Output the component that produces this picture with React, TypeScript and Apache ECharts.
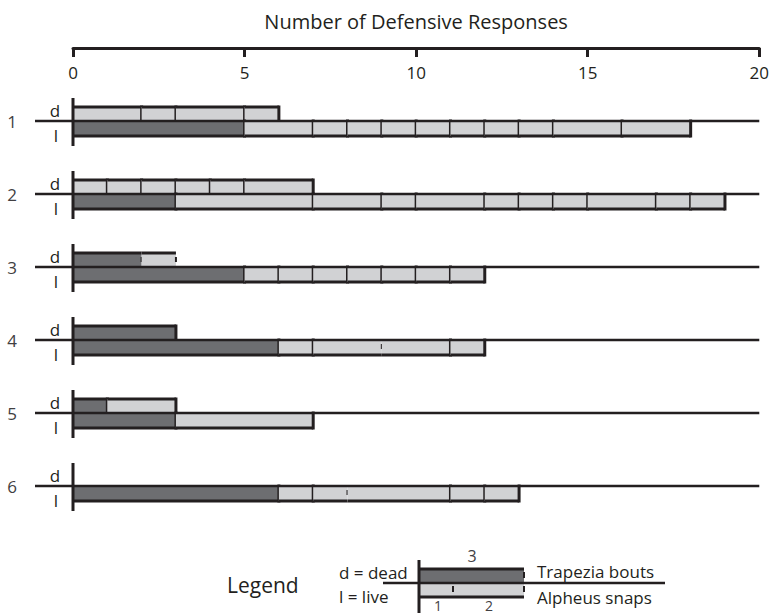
import React, { useEffect, useRef } from "react";
import * as echarts from "echarts";

const groups = ["1", "2", "3", "4", "5", "6"];
const axisMin = 0;
const axisMax = 20;
const axisInterval = 5;
// Trapezia bouts (dark) per group, for dead (d) and live (l)
const deadTrapezia = [0, 0, 2, 3, 1, 0];
const liveTrapezia = [5, 3, 5, 6, 3, 6];
// Alpheus snaps (light) — cumulative ends of each boxed segment
const deadAlpheusEnds = [[2, 3, 5, 6], [1, 2, 3, 4, 5, 7], [3], [], [3], []];
const liveAlpheusEnds = [
  [7, 8, 9, 10, 11, 12, 13, 14, 16, 18],
  [7, 9, 10, 12, 13, 14, 15, 17, 18, 19],
  [6, 7, 8, 9, 10, 11, 12],
  [7, 9, 11, 12],
  [7],
  [7, 8, 11, 12, 13],
];
// boundaries drawn only as a faint short tick: [group, row(0=d,1=l), value]
const faintBoundaries = [
  [3, 0, 2],
  [3, 0, 3],
  [4, 1, 9],
  [6, 1, 8],
];

const INK = "#231f20";
const DARK = "#6d6e71";
const LIGHT = "#d1d2d4";
const FONT = "Open Sans";

function buildSegments() {
  const out: number[][] = [];
  const isFaint = (g: number, r: number, v: number) =>
    faintBoundaries.some((f) => f[0] === g && f[1] === r && f[2] === v) ? 1 : 0;
  groups.forEach((_, i) => {
    const g = i + 1;
    [
      [deadTrapezia[i], deadAlpheusEnds[i]],
      [liveTrapezia[i], liveAlpheusEnds[i]],
    ].forEach(([dark, ends]: any, row) => {
      let prev = 0;
      if (dark > 0) {
        out.push([g, row, 0, dark, 0, isFaint(g, row, dark)]);
        prev = dark;
      }
      (ends as number[]).forEach((e) => {
        out.push([g, row, prev, e, 1, isFaint(g, row, e)]);
        prev = e;
      });
    });
  });
  return out;
}

export default function App() {
  const ref = useRef<HTMLDivElement>(null);
  useEffect(() => {
    if (!ref.current) return;
    const chart = echarts.init(ref.current, null, { renderer: "svg" });
    const segments = buildSegments();
    const option: any = {
      animation: false,
      grid: { left: 73, right: 11, top: 48, bottom: 54 },
      xAxis: {
        type: "value",
        position: "top",
        min: axisMin,
        max: axisMax,
        interval: axisInterval,
        name: "Number of Defensive Responses",
        nameLocation: "middle",
        nameGap: 17,
        nameTextStyle: { fontFamily: FONT, fontSize: 20, color: INK },
        axisLine: { lineStyle: { color: INK, width: 3 } },
        axisTick: { inside: true, length: 9, lineStyle: { color: INK, width: 3 } },
        axisLabel: { inside: true, margin: 16, fontFamily: FONT, fontSize: 17, color: INK },
        splitLine: { show: false },
      },
      yAxis: {
        type: "value",
        inverse: true,
        min: 0,
        max: 7,
        interval: 1,
        axisLine: { show: false },
        axisTick: { show: false },
        splitLine: { show: false },
        axisLabel: {
          margin: 56,
          fontFamily: FONT,
          fontSize: 17,
          color: "#414042",
          formatter: (v: number) => groups[v - 1] ?? "",
        },
      },
      series: [
        {
          type: "custom",
          z: 2,
          data: segments,
          renderItem: (params: any, api: any) => {
            const g = api.value(0);
            const row = api.value(1);
            const s = api.value(2);
            const e = api.value(3);
            const kind = api.value(4);
            const faint = api.value(5);
            const p0 = api.coord([s, g]);
            const p1 = api.coord([e, g]);
            const h = row === 0 ? 14 : 15;
            const y0 = row === 0 ? p0[1] - h : p0[1];
            const edgeY = row === 0 ? y0 : y0 + h;
            const children: any[] = [
              {
                type: "rect",
                shape: { x: p0[0], y: y0, width: p1[0] - p0[0], height: h },
                style: { fill: kind === 0 ? DARK : LIGHT },
              },
              {
                type: "line",
                shape: { x1: p0[0], y1: edgeY, x2: p1[0], y2: edgeY },
                style: { stroke: INK, lineWidth: 3 },
              },
            ];
            if (faint) {
              children.push({
                type: "line",
                shape: { x1: p1[0], y1: y0 + 4, x2: p1[0], y2: y0 + 9 },
                style: { stroke: INK, lineWidth: 2 },
              });
            } else {
              children.push({
                type: "line",
                shape: { x1: p1[0], y1: y0 - 1.5, x2: p1[0], y2: y0 + h + 1.5 },
                style: { stroke: INK, lineWidth: 3 },
              });
            }
            return { type: "group", children };
          },
        },
        {
          type: "custom",
          z: 3,
          data: groups.map((_, i) => [i + 1]),
          renderItem: (params: any, api: any) => {
            const g = api.value(0);
            const p = api.coord([axisMin, g]);
            const pe = api.coord([axisMax, g]);
            return {
              type: "group",
              children: [
                {
                  type: "line",
                  shape: { x1: p[0] - 38, y1: p[1], x2: pe[0], y2: p[1] },
                  style: { stroke: INK, lineWidth: 2.5 },
                },
                {
                  type: "line",
                  shape: { x1: p[0], y1: p[1] - 23, x2: p[0], y2: p[1] + 25 },
                  style: { stroke: INK, lineWidth: 3 },
                },
                {
                  type: "text",
                  x: p[0] - 18,
                  y: p[1] - 11,
                  style: {
                    text: "d",
                    fill: INK,
                    font: `17px '${FONT}'`,
                    align: "center",
                    verticalAlign: "middle",
                  },
                },
                {
                  type: "text",
                  x: p[0] - 17,
                  y: p[1] + 14,
                  style: {
                    text: "l",
                    fill: INK,
                    font: `17px '${FONT}'`,
                    align: "center",
                    verticalAlign: "middle",
                  },
                },
              ],
            };
          },
        },
      ],
      graphic: [
        {
          type: "group",
          children: [
            { type: "text", x: 227, y: 585, style: { text: "Legend", font: `21px '${FONT}'`, fill: INK, verticalAlign: "middle" } },
            { type: "text", x: 339, y: 572, style: { text: "d = dead", font: `17px '${FONT}'`, fill: INK, verticalAlign: "middle" } },
            { type: "text", x: 339, y: 596, style: { text: "l = live", font: `17px '${FONT}'`, fill: INK, verticalAlign: "middle" } },
            { type: "rect", shape: { x: 419, y: 569, width: 105, height: 14 }, style: { fill: DARK } },
            { type: "rect", shape: { x: 419, y: 583, width: 105, height: 14 }, style: { fill: LIGHT } },
            { type: "line", shape: { x1: 419, y1: 569, x2: 524, y2: 569 }, style: { stroke: INK, lineWidth: 3 } },
            { type: "line", shape: { x1: 419, y1: 597, x2: 524, y2: 597 }, style: { stroke: INK, lineWidth: 3 } },
            { type: "line", shape: { x1: 383, y1: 583, x2: 665, y2: 583 }, style: { stroke: INK, lineWidth: 2.5 } },
            { type: "line", shape: { x1: 419, y1: 560, x2: 419, y2: 613 }, style: { stroke: INK, lineWidth: 3 } },
            { type: "line", shape: { x1: 453, y1: 586, x2: 453, y2: 592 }, style: { stroke: INK, lineWidth: 2 } },
            { type: "line", shape: { x1: 524, y1: 572, x2: 524, y2: 578 }, style: { stroke: INK, lineWidth: 2 } },
            { type: "line", shape: { x1: 524, y1: 586, x2: 524, y2: 592 }, style: { stroke: INK, lineWidth: 2 } },
            { type: "text", x: 472, y: 556, style: { text: "3", font: `16px '${FONT}'`, fill: "#414042", align: "center", verticalAlign: "middle" } },
            { type: "text", x: 438, y: 605, style: { text: "1", font: `14px '${FONT}'`, fill: "#414042", align: "center", verticalAlign: "middle" } },
            { type: "text", x: 489, y: 605, style: { text: "2", font: `14px '${FONT}'`, fill: "#414042", align: "center", verticalAlign: "middle" } },
            { type: "text", x: 537, y: 571, style: { text: "Trapezia bouts", font: `17px '${FONT}'`, fill: INK, verticalAlign: "middle" } },
            { type: "text", x: 537, y: 597, style: { text: "Alpheus snaps", font: `17px '${FONT}'`, fill: INK, verticalAlign: "middle" } },
          ],
        },
      ],
    };
    chart.setOption(option);
    return () => chart.dispose();
  }, []);
  return <div ref={ref} style={{ width: 772, height: 613, position: "absolute", left: 0, top: 0, background: "#fff" }} />;
}
